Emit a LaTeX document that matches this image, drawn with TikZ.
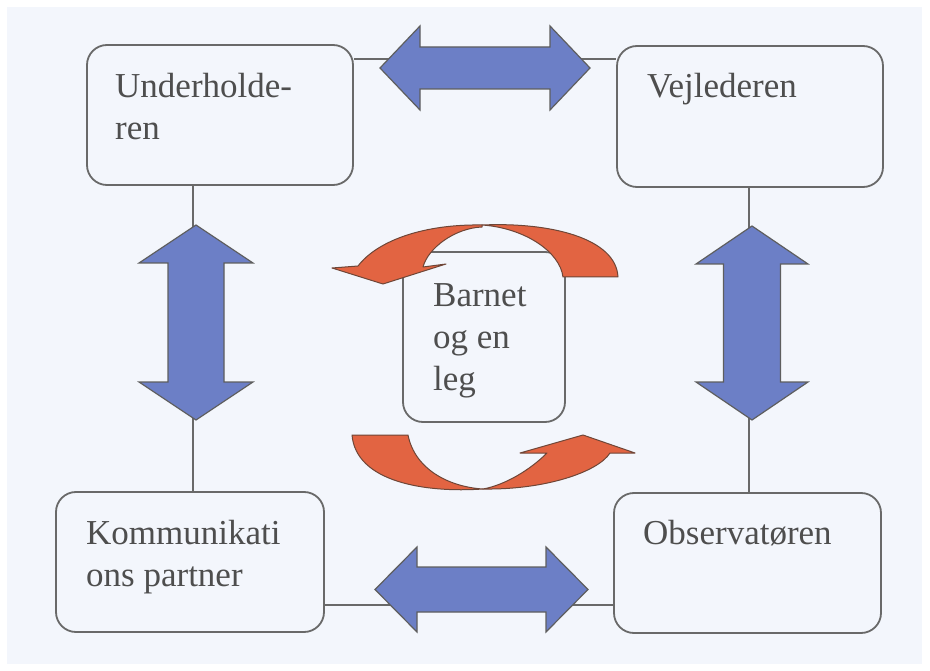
\documentclass[tikz,border=0pt]{standalone}
\usepackage{fontspec}
\setmainfont{Liberation Serif}
\definecolor{bgc}{RGB}{243,246,252}
\definecolor{boxline}{RGB}{105,105,105}
\definecolor{txt}{RGB}{78,78,78}
\definecolor{bluefill}{RGB}{108,127,198}
\definecolor{orangefill}{RGB}{226,100,66}
\definecolor{orangeline}{RGB}{110,70,55}
\tikzset{
  box/.style={draw=boxline, line width=1.8pt, rounded corners=20pt, inner sep=0pt},
  lbl/.style={text=txt, font=\fontsize{35}{42}\selectfont, align=left, inner sep=0pt, anchor=base west},
  conn/.style={draw=boxline, line width=1.6pt},
  bluearrow/.style={fill=bluefill, draw=boxline!90!black, line width=1.2pt, line join=miter},
  orangearrow/.style={fill=orangefill, draw=orangeline, line width=1pt, line join=round},
  pics/blockarrow/.style n args={4}{code={
    \path[bluearrow] (-#1,0) -- (-#1+#2,#3) -- (-#1+#2,#4) -- (#1-#2,#4) -- (#1-#2,#3) -- (#1,0)
      -- (#1-#2,-#3) -- (#1-#2,-#4) -- (-#1+#2,-#4) -- (-#1+#2,-#3) -- cycle;
  }}
}
\begin{document}
\begin{tikzpicture}[x=1pt,y=-1pt]
\useasboundingbox (0,0) rectangle (930,671);
\fill[white] (0,0) rectangle (930,671);
\fill[bgc] (7,7) rectangle (922,664);

% boxes
\node[box, minimum width=266pt, minimum height=140pt] (ul) at (220,115) {};
\node[box, minimum width=266pt, minimum height=141pt] (vj) at (750,116.5) {};
\node[box, minimum width=268pt, minimum height=140pt] (kp) at (190,562) {};
\node[box, minimum width=267pt, minimum height=140pt] (ob) at (747.5,563) {};

% connector guides
\coordinate (lx) at (193,0);
\coordinate (rx) at (749,0);
\coordinate (ty) at (0,59);
\coordinate (by) at (0,605);

\draw[conn] (ul.south -| lx) -- (kp.north -| lx);
\draw[conn] (vj.south -| rx) -- (ob.north -| rx);
\draw[conn] (ul.east |- ty) -- (vj.west |- ty);
\draw[conn] (kp.east |- by) -- (ob.west |- by);

% blue double arrows
\pic at (485,68) {blockarrow={105}{40}{42}{21}};
\pic at (481.5,589.5) {blockarrow={106.5}{42}{42.5}{22.5}};
\pic[rotate=90] at (196,322.5) {blockarrow={97.5}{38}{57}{28}};
\pic[rotate=90] at (752,323) {blockarrow={97}{38}{56}{28.5}};

% centre box
\node[box, minimum width=162pt, minimum height=170pt] (bn) at (484,337) {};

% orange curved arrows (top)
\path[orangearrow] (563,277) -- (618,277) .. controls (616,238) and (550,222) .. (482,225)
  .. controls (525,228) and (560,252) .. (563,277) -- cycle;
\path[orangearrow] (482,225) .. controls (425,224) and (378,240) .. (358,266)
  -- (332,268) -- (383,284) -- (446,264) -- (423,267)
  .. controls (428,248) and (455,228) .. (482,227) -- cycle;
% orange curved arrows (bottom)
\path[orangearrow] (352,435) -- (408,435) .. controls (415,470) and (450,487) .. (483,489)
  .. controls (425,493) and (356,482) .. (352,435) -- cycle;
\path[orangearrow] (483,489) .. controls (545,490) and (598,472) .. (610,453)
  -- (635,453) -- (583,435) -- (520,453) -- (547,453)
  .. controls (530,470) and (505,485) .. (483,489) -- cycle;

% labels
\node[lbl] (ult) at (115,140) {Underholde-\\ren};
\node[lbl] (vjt) at (647,98) {Vejlederen};
\node[lbl] (kpt) at (86,586) {Kommunikati\\ons partner};
\node[lbl] (obt) at (643,544) {Observatøren};
\node[lbl] (bnt) at (433,390) {Barnet\\og en\\leg};
\end{tikzpicture}
\end{document}
